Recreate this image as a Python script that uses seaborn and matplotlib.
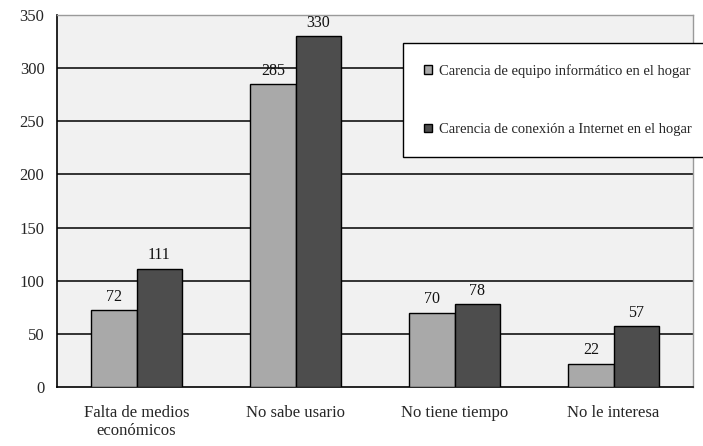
import matplotlib
matplotlib.use("Agg")
import matplotlib.pyplot as plt
import seaborn as sns
import pandas as pd
from matplotlib.ticker import FixedLocator, NullFormatter

categorias = ["Falta de medios\neconómicos", "No sabe usario", "No tiene tiempo", "No le interesa"]
series = ["Carencia de equipo informático en el hogar",
          "Carencia de conexión a Internet en el hogar"]
equipo = [72, 285, 70, 22]
conexion = [111, 330, 78, 57]
y_ticks = [0, 50, 100, 150, 200, 250, 300, 350]

df = pd.DataFrame({
    "categoria": categorias * 2,
    "serie": [series[0]] * len(categorias) + [series[1]] * len(categorias),
    "valor": equipo + conexion,
})

sns.set_theme(style="white")
plt.rcParams["font.family"] = ["Liberation Serif", "DejaVu Serif"]

fig = plt.figure(figsize=(7.03, 4.46), dpi=100)
ax = fig.add_axes([57 / 703, 1 - 387 / 446, (693 - 57) / 703, (387 - 15) / 446])
ax.set_facecolor("#f1f1f1")

sns.barplot(data=df, x="categoria", y="valor", hue="serie", order=categorias,
            hue_order=series, palette=["#a9a9a9", "#4d4d4d"], width=0.57,
            edgecolor="black", linewidth=1.0, ax=ax, zorder=3, saturation=1)

for cont in ax.containers:
    ax.bar_label(cont, padding=4, fontsize=11.5, color="#111111")

ax.set_ylim(0, 350)
ax.set_xlim(-0.5, 3.5)
ax.set_yticks(y_ticks)
ax.set_yticklabels([str(v) for v in y_ticks], fontsize=12)
ax.set_xticks(range(len(categorias)))
ax.set_xticklabels(categorias, fontsize=12)
ax.xaxis.set_minor_locator(FixedLocator([-0.5, 0.5, 1.5, 2.5, 3.5]))
ax.xaxis.set_minor_formatter(NullFormatter())
ax.tick_params(axis="x", which="major", length=0, pad=13)
ax.tick_params(axis="x", which="minor", length=5, width=1, color="black", direction="out")
ax.tick_params(axis="y", length=5, width=1, color="black", direction="out", pad=4)

for v in y_ticks[1:-1]:
    ax.axhline(v, color="black", linewidth=1.1, zorder=1)

ax.set_xlabel("")
ax.set_ylabel("")
for side in ("left", "bottom"):
    ax.spines[side].set_color("black")
    ax.spines[side].set_linewidth(1.2)
for side in ("top", "right"):
    ax.spines[side].set_color("#9a9a9a")
    ax.spines[side].set_linewidth(1.0)

leg = ax.legend(loc="upper left", bbox_to_anchor=(403 / 703, 1 - 43 / 446),
                bbox_transform=fig.transFigure, frameon=True, fancybox=False,
                fontsize=10.5, handlelength=0.55, handleheight=0.55,
                handletextpad=0.45, labelspacing=3.1, borderpad=1.45,
                borderaxespad=0)
leg.get_frame().set_edgecolor("black")
leg.get_frame().set_linewidth(1.0)
leg.get_frame().set_facecolor("white")
leg.get_frame().set_alpha(1)

fig.savefig("out.png", dpi=100)
